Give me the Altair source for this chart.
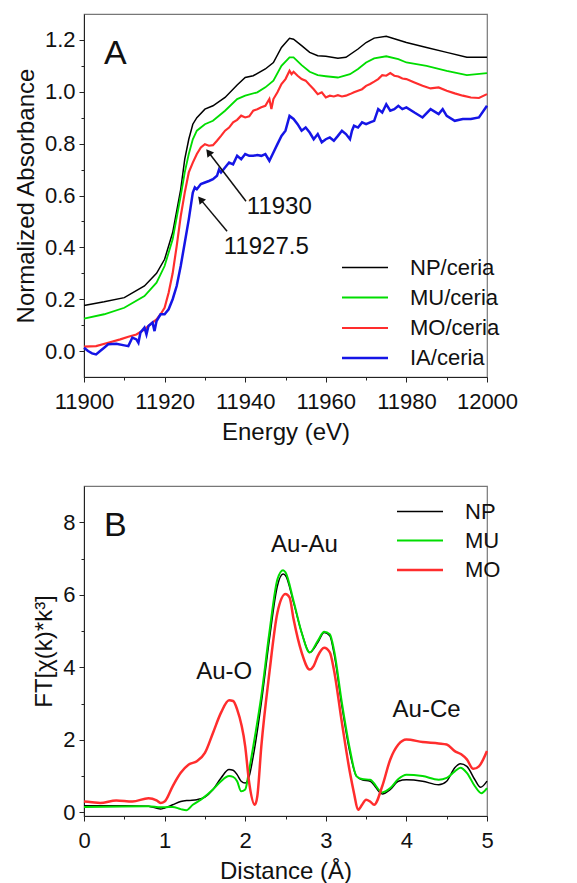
import altair as alt
import pandas as pd

FONT = "Liberation Sans"

# ---------------- Panel A : XANES ----------------
series_A = ["NP/ceria", "MU/ceria", "MO/ceria", "IA/ceria"]
colors_A = ["#000000", "#00dd00", "#ff2d2d", "#1515e6"]
widths_A = [1.5, 2.5, 1.5, 1.5]

np_E = [11900, 11905, 11910, 11915, 11918, 11920, 11922, 11924, 11925, 11926, 11927, 11928,
        11930, 11932, 11935, 11938, 11940, 11942, 11945, 11947, 11949, 11951, 11952, 11954,
        11956, 11958, 11960, 11963, 11965, 11968, 11970, 11972, 11975, 11978, 11980, 11985,
        11990, 11995, 12000]
np_A = [0.176, 0.19, 0.206, 0.251, 0.30, 0.354, 0.457, 0.624, 0.74, 0.817, 0.875, 0.90,
        0.933, 0.946, 0.978, 1.026, 1.055, 1.062, 1.088, 1.113, 1.171, 1.206, 1.203, 1.178,
        1.152, 1.139, 1.137, 1.129, 1.133, 1.165, 1.19, 1.207, 1.214, 1.2, 1.19, 1.171,
        1.152, 1.133, 1.133]

mu_E = [11900, 11905, 11910, 11915, 11918, 11920, 11922, 11924, 11925, 11926, 11927, 11928,
        11930, 11932, 11935, 11938, 11940, 11943, 11945, 11947, 11949, 11951, 11952, 11954,
        11956, 11958, 11960, 11963, 11966, 11968, 11970, 11972, 11975, 11978, 11980, 11985,
        11990, 11995, 12000]
mu_A = [0.125, 0.142, 0.167, 0.212, 0.264, 0.328, 0.431, 0.599, 0.689, 0.76, 0.817, 0.85,
        0.875, 0.888, 0.927, 0.972, 0.985, 0.998, 1.017, 1.043, 1.10, 1.133, 1.133, 1.103,
        1.077, 1.064, 1.06, 1.055, 1.068, 1.088, 1.113, 1.129, 1.137, 1.126, 1.113, 1.10,
        1.081, 1.064, 1.072]

mo_E = [11900, 11903, 11906, 11909, 11911, 11913, 11915, 11917, 11918, 11919, 11920, 11921,
        11922, 11923, 11924, 11925, 11926, 11927, 11928, 11929, 11930, 11931, 11932, 11933,
        11934, 11935, 11936, 11937, 11938, 11939, 11940, 11941, 11942, 11943, 11944, 11945,
        11946, 11946.5, 11947, 11948, 11949, 11950, 11951, 11951.5, 11952, 11953, 11954, 11955,
        11956, 11957, 11958, 11959, 11960, 11961, 11962, 11963, 11964, 11965, 11966, 11967,
        11968, 11969, 11970, 11971, 11972, 11973, 11974, 11975, 11976, 11977, 11978, 11979,
        11980, 11982, 11984, 11986, 11988, 11990, 11992, 11994, 11996, 11998, 12000]
mo_A = [0.017, 0.019, 0.032, 0.045, 0.055, 0.064, 0.084, 0.11, 0.122, 0.142, 0.167, 0.225,
        0.30, 0.405, 0.52, 0.611, 0.689, 0.727, 0.76, 0.785, 0.798, 0.792, 0.794, 0.811,
        0.83, 0.85, 0.862, 0.882, 0.892, 0.908, 0.901, 0.905, 0.927, 0.933, 0.94, 0.946,
        0.972, 0.933, 0.972, 0.998, 1.03, 1.049, 1.081, 1.068, 1.077, 1.062, 1.049, 1.043,
        1.026, 1.01, 0.991, 0.998, 0.978, 0.985, 0.982, 0.987, 0.982, 0.985, 0.991, 0.998,
        1.004, 1.01, 1.023, 1.03, 1.039, 1.049, 1.064, 1.062, 1.072, 1.062, 1.059, 1.051,
        1.049, 1.036, 1.023, 1.013, 1.017, 1.004, 0.994, 0.985, 0.978, 0.976, 0.991]

ia_E = [11900, 11901, 11902, 11903, 11904, 11905, 11906, 11908, 11910, 11911, 11912, 11913,
        11913.5, 11914, 11915, 11915.5, 11916, 11917, 11917.5, 11918, 11919, 11920, 11921,
        11922, 11923, 11924, 11925, 11926, 11927, 11927.5, 11928, 11929, 11930, 11931, 11932,
        11933, 11933.5, 11934, 11935, 11936, 11937, 11938, 11939, 11940, 11941, 11942, 11943,
        11944, 11945, 11946, 11947, 11948, 11949, 11950, 11951, 11952, 11953, 11954, 11955,
        11956, 11957, 11958, 11959, 11960, 11961, 11962, 11963, 11964, 11965, 11966, 11966.5,
        11967, 11968, 11969, 11970, 11971, 11972, 11973, 11974, 11975, 11976, 11977, 11978,
        11979, 11980, 11982, 11984, 11986, 11988, 11989, 11990, 11992, 11994, 11996, 11998,
        12000]
ia_A = [0.013, 0.0, -0.009, -0.013, 0.0, 0.013, 0.026, 0.028, 0.022, 0.019, 0.052, 0.045,
        0.032, 0.071, 0.09, 0.064, 0.097, 0.11, 0.077, 0.116, 0.142, 0.142, 0.161,
        0.20, 0.251, 0.328, 0.418, 0.508, 0.611, 0.631, 0.624, 0.644, 0.65, 0.656, 0.663,
        0.676, 0.70, 0.689, 0.708, 0.727, 0.72, 0.753, 0.74, 0.76, 0.753, 0.753, 0.756,
        0.753, 0.76, 0.734, 0.766, 0.798, 0.83, 0.85, 0.907, 0.895, 0.875, 0.85, 0.862,
        0.843, 0.817, 0.837, 0.805, 0.817, 0.824, 0.811, 0.83, 0.85, 0.837, 0.817, 0.85,
        0.869, 0.862, 0.882, 0.875, 0.882, 0.888, 0.933, 0.92, 0.952, 0.927, 0.933, 0.946,
        0.933, 0.94, 0.92, 0.901, 0.933, 0.914, 0.933, 0.907, 0.888, 0.895, 0.895, 0.901,
        0.946]

# arrows / labels in panel A
arrow_text = ["11930", "11927.5"]
arrow_tail_E = [11940.2, 11935.5]
arrow_tail_A = [0.578, 0.462]
arrow_head_E = [11930.9, 11928.9]
arrow_head_A = [0.767, 0.585]
arrow_angle = [322, 320]
label_E = [11940.4, 11934.7]
label_A = [0.528, 0.373]

# ---------------- Panel B : FT-EXAFS ----------------
series_B = ["NP", "MU", "MO"]
colors_B = ["#000000", "#00dd00", "#ff2d2d"]
widths_B = [1.5, 2.5, 1.5]

np_R = [0, 0.5, 0.8, 0.95, 1.0, 1.1, 1.2, 1.3, 1.4, 1.5, 1.6, 1.7, 1.8, 1.85, 1.9, 1.95, 2.0,
        2.05, 2.1, 2.2, 2.3, 2.4, 2.47, 2.5, 2.6, 2.7, 2.8, 2.9, 2.98, 3.05, 3.1, 3.2, 3.3,
        3.38, 3.45, 3.55, 3.7, 3.8, 3.9, 4.0, 4.2, 4.4, 4.5, 4.6, 4.67, 4.75, 4.85, 4.92, 5.0]
np_F = [0.18, 0.18, 0.17, 0.09, 0.12, 0.21, 0.3, 0.33, 0.35, 0.42, 0.63, 0.95, 1.18, 1.16,
        1.04, 0.86, 0.81, 1.0, 1.55, 3.02, 4.77, 6.25, 6.57, 6.53, 5.79, 4.96, 4.41, 4.68,
        4.96, 4.87, 4.41, 2.93, 1.64, 1.0, 0.9, 0.86, 0.51, 0.63, 0.86, 0.9, 0.86, 0.76,
        0.86, 1.23, 1.34, 1.27, 0.9, 0.69, 0.86]

mu_R = [0, 0.8, 0.95, 1.0, 1.1, 1.2, 1.27, 1.35, 1.45, 1.6, 1.7, 1.8, 1.85, 1.9, 1.95, 2.0,
        2.05, 2.1, 2.2, 2.3, 2.4, 2.47, 2.5, 2.6, 2.7, 2.8, 2.9, 2.98, 3.05, 3.1, 3.2, 3.3,
        3.38, 3.45, 3.55, 3.7, 3.8, 3.9, 4.0, 4.2, 4.4, 4.5, 4.6, 4.67, 4.75, 4.85, 4.93, 5.0]
mu_F = [0.15, 0.17, 0.14, 0.14, 0.15, 0.09, 0.06, 0.21, 0.35, 0.63, 0.86, 1.0, 0.98, 0.86,
        0.58, 0.63, 1.18, 1.82, 3.21, 4.96, 6.43, 6.68, 6.62, 5.83, 4.96, 4.41, 4.73, 4.98,
        4.91, 4.5, 3.02, 1.73, 1.0, 0.92, 0.9, 0.55, 0.67, 0.92, 1.04, 1.0, 0.9, 0.95, 1.13,
        1.23, 1.09, 0.72, 0.53, 0.67]

mo_R = [0, 0.1, 0.2, 0.4, 0.6, 0.8, 0.9, 0.95, 1.0, 1.1, 1.2, 1.3, 1.4, 1.5, 1.6, 1.7, 1.8,
        1.85, 1.9, 2.0, 2.05, 2.12, 2.15, 2.2, 2.3, 2.4, 2.5, 2.55, 2.6, 2.7, 2.8, 2.85, 2.9,
        2.98, 3.05, 3.1, 3.2, 3.3, 3.35, 3.4, 3.45, 3.5, 3.55, 3.6, 3.7, 3.8, 3.9, 4.0, 4.2,
        4.4, 4.5, 4.6, 4.68, 4.75, 4.83, 4.9, 5.0]
mo_F = [0.3, 0.28, 0.26, 0.33, 0.3, 0.39, 0.33, 0.26, 0.3, 0.72, 1.09, 1.32, 1.41, 1.64,
        2.19, 2.75, 3.09, 3.07, 2.84, 1.82, 0.81, 0.21, 0.44, 1.82, 3.85, 5.51, 6.02, 5.93,
        5.33, 4.41, 3.94, 4.04, 4.31, 4.54, 4.41, 3.94, 2.47, 1.09, 0.53, 0.07, 0.21, 0.35,
        0.3, 0.21, 0.72, 1.46, 1.87, 2.01, 1.94, 1.9, 1.87, 1.69, 1.6, 1.46, 1.2, 1.27, 1.69]

peak_text = ["Au-O", "Au-Au", "Au-Ce"]
peak_R = [1.74, 2.735, 4.25]
peak_F = [3.67, 7.17, 2.63]


def long_df(items):
    rows = []
    for name, xs, ys in items:
        for x, y in zip(xs, ys):
            rows.append({"series": name, "x": x, "y": y})
    return pd.DataFrame(rows)


dfA = long_df([("NP/ceria", np_E, np_A), ("MU/ceria", mu_E, mu_A),
               ("MO/ceria", mo_E, mo_A), ("IA/ceria", ia_E, ia_A)])
dfB = long_df([("NP", np_R, np_F), ("MU", mu_R, mu_F), ("MO", mo_R, mo_F)])

arrows = pd.DataFrame({"t": arrow_text, "x": arrow_tail_E, "y": arrow_tail_A,
                       "x2": arrow_head_E, "y2": arrow_head_A, "ang": arrow_angle,
                       "lx": label_E, "ly": label_A})
peaks = pd.DataFrame({"t": peak_text, "x": peak_R, "y": peak_F})


def panel(df, series, colors, widths, xdom, ydom, xvals, xminor, yvals, yminor,
          xfmt, yfmt, xtitle, ytitle, legX, legY, rowpad, interp, letter, W, H, extra):
    xs = alt.Scale(domain=xdom, nice=False, zero=False)
    ys = alt.Scale(domain=ydom, nice=False, zero=False)
    minor = alt.Chart(df).mark_line(opacity=0).encode(
        x=alt.X("x:Q", scale=xs, axis=alt.Axis(values=xminor, labels=False, tickSize=3,
                                                 domain=False, title=None, orient="bottom")),
        y=alt.Y("y:Q", scale=ys, axis=alt.Axis(values=yminor, labels=False, tickSize=3,
                                                 domain=False, title=None, orient="left")),
    )
    lines = alt.Chart(df).mark_line(interpolate=interp).encode(
        x=alt.X("x:Q", scale=xs, axis=alt.Axis(values=xvals, format=xfmt, title=xtitle,
                                                 tickSize=5, orient="bottom",
                                                 labelOverlap=False, labelFlush=False,
                                                 labelPadding=9, titlePadding=8)),
        y=alt.Y("y:Q", scale=ys, axis=alt.Axis(values=yvals, format=yfmt, title=ytitle,
                                                 tickSize=5, orient="left",
                                                 labelOverlap=False, labelFlush=False)),
        color=alt.Color("series:N", sort=series,
                        scale=alt.Scale(domain=series, range=colors),
                        legend=alt.Legend(title=None, orient="none", legendX=legX, legendY=legY,
                                          symbolType="M-2,0L2,0", symbolSize=529,
                                          symbolStrokeWidth=2, labelFont=FONT,
                                          labelFontSize=22, labelColor="#111",
                                          rowPadding=rowpad, labelOffset=32)),
        strokeWidth=alt.StrokeWidth("series:N", scale=alt.Scale(domain=series, range=widths),
                                    legend=None),
    )
    let = alt.Chart(pd.DataFrame({"t": [letter]})).mark_text(
        font=FONT, fontSize=34, align="left", baseline="alphabetic", color="#111"
    ).encode(text="t:N", x=alt.value(20), y=alt.value(50))
    layers = [minor, lines, let] + extra(xs, ys)
    return alt.layer(*layers).resolve_axis(x="independent", y="independent").properties(
        width=W, height=H)


def extra_A(xs, ys):
    rule = alt.Chart(arrows).mark_rule(color="#111", strokeWidth=1.5).encode(
        x=alt.X("x:Q", scale=xs, axis=None), y=alt.Y("y:Q", scale=ys, axis=None),
        x2="x2:Q", y2="y2:Q")
    head = alt.Chart(arrows).mark_point(shape="triangle-up", filled=True, size=70,
                                        color="#111", opacity=1).encode(
        x=alt.X("x2:Q", scale=xs, axis=None), y=alt.Y("y2:Q", scale=ys, axis=None),
        angle=alt.Angle("ang:Q", scale=None))
    txt = alt.Chart(arrows).mark_text(font=FONT, fontSize=24, align="left",
                                      baseline="alphabetic", color="#111").encode(
        x=alt.X("lx:Q", scale=xs, axis=None), y=alt.Y("ly:Q", scale=ys, axis=None),
        text="t:N")
    return [rule, head, txt]


def extra_B(xs, ys):
    txt = alt.Chart(peaks).mark_text(font=FONT, fontSize=24, align="center",
                                     baseline="alphabetic", color="#111").encode(
        x=alt.X("x:Q", scale=xs, axis=None), y=alt.Y("y:Q", scale=ys, axis=None),
        text="t:N")
    return [txt]


top = panel(dfA, series_A, colors_A, widths_A, [11900, 12000], [-0.1, 1.3],
            list(range(11900, 12001, 20)), list(range(11910, 12000, 20)),
            [0, 0.2, 0.4, 0.6, 0.8, 1.0, 1.2], [0.1, 0.3, 0.5, 0.7, 0.9, 1.1],
            "d", ".1f", "Energy (eV)", "Normalized Absorbance",
            268, 241, 6, "linear", "A", 403, 363, extra_A)

bottom = panel(dfB, series_B, colors_B, widths_B, [0, 5], [-0.1, 9],
               [0, 1, 2, 3, 4, 5], [0.5, 1.5, 2.5, 3.5, 4.5],
               [0, 2, 4, 6, 8], [1, 3, 5, 7],
               "d", "d", "Distance (Å)", "FT[χ(k)*k³]",
               323, 13, 5, "monotone", "B", 403, 330, extra_B)

chart = alt.vconcat(top, bottom, spacing=40, background="white").resolve_scale(
    color="independent", strokeWidth="independent"
).resolve_legend(color="independent").configure_axis(
    labelFont=FONT, titleFont=FONT, labelFontSize=22, titleFontSize=24,
    labelColor="#111", titleColor="#111", domainColor="#222", tickColor="#222",
    grid=False, labelPadding=4, titlePadding=6, titleFontWeight="normal"
).configure_view(stroke="#777", strokeWidth=1.2)

chart.save("out.html", embed_options={"renderer": "svg", "actions": False})
